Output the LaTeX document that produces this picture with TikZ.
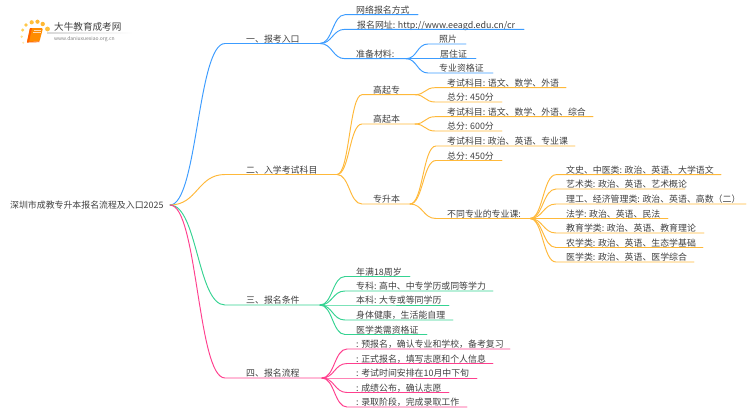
\documentclass[tikz,border=0pt]{standalone}
\usepackage{fontspec}
\setmainfont{Noto Sans CJK SC}
\definecolor{cblue}{HTML}{3C9CFF}
\definecolor{corange}{HTML}{FFB93A}
\definecolor{cgreen}{HTML}{35D392}
\definecolor{cpink}{HTML}{FF3F8E}
\definecolor{ctext}{HTML}{404040}
\tikzset{
  lbl/.style={anchor=base west,inner sep=0pt,text=ctext,font=\fontsize{8.9}{10}\selectfont},
  conn/.style={line width=0.95pt,line cap=round}
}
% #1 from, #2 name, #3 line start x, #4 line end x, #5 y, #6 text x, #7 text
\newcommand\bnode[7]{%
  \coordinate (#2s) at (#3,#5);
  \coordinate (#2) at (#4,#5);
  \pgfmathsetmacro\dxx{(#3-\bx)*0.5}
  \pgfmathsetmacro\by{#5-2.4+1.3}
  \node[lbl] (#2t) at (#6,\by) {#7};
  \draw[conn,draw=\cc] (#1) .. controls ($(#1)+(\dxx,0)$) and ($(#2s)-(\dxx,0)$) .. (#2s) -- (#2);
}
\usetikzlibrary{calc}
\begin{document}
\begin{tikzpicture}[x=1pt,y=-1pt]
\useasboundingbox (0,0) rectangle (750,410);
\fill[white] (0,0) rectangle (750,410);
% logo
\foreach \px/\py/\r/\c in {22.7/30/1.7/FFD257,26/25/1.9/FFC84A,31.7/22.3/2.1/FFC03C,37.5/21.7/2.1/FFB833,42.7/24/2.2/FFB833,47.5/29/2.4/FFC03C,21.7/36.7/1.3/FFE08A,23.3/42.7/1.1/FFE9AE}{
  \definecolor{tmpc}{HTML}{\c}
  \fill[tmpc] (\px,\py) circle (\r);
}
\fill[orange!90!yellow,rounded corners=1.2pt] (30,28) -- (43,28) -- (39.5,41.5) -- (27,42) -- cycle;
\fill[orange!75!red] (30,28) -- (32,28) -- (29,42) -- (27,42) -- cycle;
\draw[white!70!orange,line width=.5pt] (33.5,30.5) -- (41,30.5) (33,32.5) -- (40.5,32.5);
\draw[orange!70!red,line width=.7pt] (27,42.2) -- (39.5,41.8);
\path[left color=gray!30,right color=white] (47,32.8) rectangle (133,33.4);
\node[anchor=base west,inner sep=0pt,text=ctext,font=\fontsize{9.6}{11}\selectfont] (logoA) at (54,30.8) {大牛教育成考网};
\node[anchor=base west,inner sep=0pt,text=gray,font=\fontsize{5}{6}\selectfont] (logoB) at (54,40.8) {www.daniuxuexiao.org.cn};
% root
\node[lbl] (root) at (10,208.2) {深圳市成教专升本报名流程及入口2025};
\coordinate (r) at (170,205);
\def\bx{170}
\def\cc{cblue}
\bnode{r}{a}{225}{320}{43.5}{246}{一、报考入口}
\def\cc{corange}
\bnode{r}{b}{225}{337}{174.5}{246}{二、入学考试科目}
\def\cc{cgreen}
\bnode{r}{c}{225}{320}{305}{246}{三、报名条件}
\def\cc{cpink}
\bnode{r}{d}{225}{322}{378}{246}{四、报名流程}
% branch 1
\def\cc{cblue}\def\bx{320}
\bnode{a}{a1}{345}{418}{14.7}{356}{网络报名方式}
\bnode{a}{a2}{345}{524}{29.3}{357}{报名网址: http://www.eeagd.edu.cn/cr}
\bnode{a}{a3}{345}{406}{58.7}{356}{准备材料:}
\def\bx{406}
\bnode{a3}{a31}{428}{466}{44}{439}{照片}
\bnode{a3}{a32}{428}{476}{58.7}{440}{居住证}
\bnode{a3}{a33}{428}{493}{73}{439}{专业资格证}
% branch 2
\def\cc{corange}\def\bx{337}
\bnode{b}{b1}{362}{415}{94.7}{373}{高起专}
\bnode{b}{b2}{362}{415}{124}{373}{高起本}
\bnode{b}{b3}{362}{410}{204}{373}{专升本}
\def\bx{415}
\bnode{b1}{b11}{435}{566}{87.7}{447}{考试科目: 语文、数学、外语}
\bnode{b1}{b12}{435}{502}{102}{447}{总分: 450分}
\bnode{b2}{b21}{435}{593}{116.7}{447}{考试科目: 语文、数学、外语、综合}
\bnode{b2}{b22}{435}{502}{131}{447}{总分: 600分}
\def\bx{410}
\bnode{b3}{b31}{436}{575}{146}{447}{考试科目: 政治、英语、专业课}
\bnode{b3}{b32}{436}{502}{160.5}{447}{总分: 450分}
\bnode{b3}{b33}{436}{530}{218.5}{447}{不同专业的专业课:}
\def\bx{530}
\bnode{b33}{e1}{556}{721}{174.7}{566}{文史、中医类: 政治、英语、大学语文}
\bnode{b33}{e2}{556}{685}{189}{566}{艺术类: 政治、英语、艺术概论}
\bnode{b33}{e3}{556}{746}{204}{566}{理工、经济管理类: 政治、英语、高数（二）}
\bnode{b33}{e4}{556}{668}{218.5}{566}{法学: 政治、英语、民法}
\bnode{b33}{e5}{556}{704}{233}{566}{教育学类: 政治、英语、教育理论}
\bnode{b33}{e6}{556}{703}{247.5}{566}{农学类: 政治、英语、生态学基础}
\bnode{b33}{e7}{556}{694}{262}{566}{医学类: 政治、英语、医学综合}
% branch 3
\def\cc{cgreen}\def\bx{320}
\bnode{c}{c1}{345}{410}{276.5}{356}{年满18周岁}
\bnode{c}{c2}{345}{493}{291}{356}{专科: 高中、中专学历或同等学力}
\bnode{c}{c3}{345}{449}{305}{356}{本科: 大专或等同学历}
\bnode{c}{c4}{345}{453}{320}{356}{身体健康，生活能自理}
\bnode{c}{c5}{345}{427}{334.5}{356}{医学类需资格证}
% branch 4
\def\cc{cpink}\def\bx{322}
\bnode{d}{d1}{347}{510}{349}{356}{: 预报名，确认专业和学校，备考复习}
\bnode{d}{d2}{347}{493}{363.5}{356}{: 正式报名，填写志愿和个人信息}
\bnode{d}{d3}{347}{477}{378}{356}{: 考试时间安排在10月中下旬}
\bnode{d}{d4}{347}{449}{392.5}{356}{: 成绩公布，确认志愿}
\bnode{d}{d5}{347}{467}{407}{356}{: 录取阶段，完成录取工作}
\end{tikzpicture}
\end{document}
